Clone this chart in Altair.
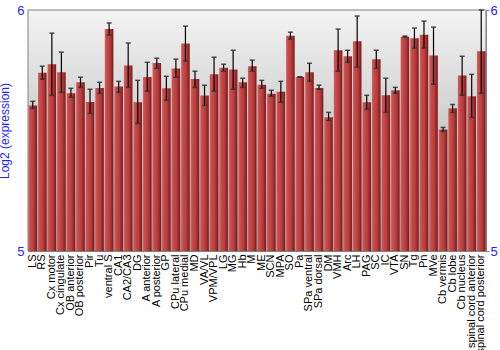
import altair as alt
import pandas as pd

categories = ["LS", "RS", "Cx motor", "Cx cingulate", "OB anterior", "OB posterior", "Pir", "Tu",
              "ventral S", "CA1", "CA2/CA3", "DG", "A anterior", "A posterior", "GP", "CPu lateral",
              "CPu medial", "MD", "VA/VL", "VPM/VPL", "LG", "MG", "Hb", "M", "ME", "SCN", "MPA", "SO",
              "Pa", "SPa ventral", "SPa dorsal", "DM", "VMH", "Arc", "LH", "PAG", "SC", "IC", "VTA",
              "SN", "Tg", "Pn", "MVe", "Cb vermis", "Cb lobe", "Cb nucleus", "spinal cord anterior",
              "spinal cord posterior"]
values = [5.604, 5.740, 5.775, 5.742, 5.655, 5.700, 5.618, 5.676,
          5.921, 5.683, 5.770, 5.617, 5.722, 5.780, 5.675, 5.757,
          5.861, 5.714, 5.645, 5.733, 5.760, 5.753, 5.700, 5.767, 5.690, 5.653, 5.661, 5.893,
          5.722, 5.742, 5.676, 5.555, 5.833, 5.808, 5.870, 5.617, 5.796, 5.646, 5.667,
          5.889, 5.883, 5.897, 5.811, 5.504, 5.592, 5.728, 5.642,
          5.829]
err_low = [5.592, 5.713, 5.646, 5.658, 5.638, 5.679, 5.571, 5.654,
           5.896, 5.658, 5.679, 5.529, 5.663, 5.758, 5.625, 5.721,
           5.788, 5.679, 5.604, 5.663, 5.746, 5.671, 5.679, 5.746, 5.675, 5.642, 5.617, 5.879,
           5.721, 5.704, 5.671, 5.542, 5.746, 5.783, 5.763, 5.588, 5.758, 5.575, 5.654,
           5.887, 5.842, 5.842, 5.692, 5.496, 5.575, 5.646, 5.554,
           5.654]
err_high = [5.621, 5.767, 5.904, 5.825, 5.675, 5.721, 5.671, 5.700,
            5.946, 5.704, 5.863, 5.708, 5.783, 5.800, 5.725, 5.796,
            5.933, 5.746, 5.688, 5.804, 5.775, 5.833, 5.717, 5.792, 5.708, 5.667, 5.704, 5.908,
            5.723, 5.779, 5.688, 5.575, 5.921, 5.833, 5.975, 5.646, 5.833, 5.717, 5.679,
            5.892, 5.925, 5.954, 5.929, 5.513, 5.608, 5.808, 5.733,
            6.000]

df = pd.DataFrame({"region": categories, "value": values, "lo": err_low, "hi": err_high})

W, H = 458, 241
FONT = "Liberation Sans"
BLUE = "#1f1fff"

yscale = alt.Scale(domain=[5, 6], zero=False, nice=False)
xenc = alt.X("region:N", sort=categories,
             scale=alt.Scale(paddingInner=0.1, paddingOuter=0.05),
             axis=alt.Axis(title=None, labelAngle=270, labelFont=FONT, labelFontSize=11,
                           labelColor="black", ticks=False, labelPadding=3,
                           domainColor="#808080", labelLimit=200))

bg = alt.Chart(pd.DataFrame({"a": [0]})).mark_rect(
    fill=alt.Gradient(gradient="linear", x1=0, x2=0, y1=0, y2=1,
                      stops=[alt.GradientStop(offset=0, color="#f4f4f4"),
                             alt.GradientStop(offset=1, color="#a4a4a4")]),
    stroke="#808080", strokeWidth=1, opacity=1
).encode(x=alt.value(0), x2=alt.value(W), y=alt.value(0), y2=alt.value(H))

bars = alt.Chart(df).mark_bar(
    color=alt.Gradient(gradient="linear", x1=0, x2=1, y1=0, y2=0,
                       stops=[alt.GradientStop(offset=0, color="#d06464"),
                              alt.GradientStop(offset=0.2, color="#c84c4c"),
                              alt.GradientStop(offset=0.6, color="#b73c3c"),
                              alt.GradientStop(offset=1, color="#7a1818")])
).encode(
    x=xenc,
    y=alt.Y("value:Q", scale=yscale,
            axis=alt.Axis(title="Log2 (expression)", titleColor=BLUE, titleFont=FONT,
                          titleFontSize=12, titleFontWeight="normal", titlePadding=5,
                          values=[5, 6], format="d", labelColor=BLUE, labelFont=FONT,
                          labelFontSize=13, ticks=False, labelPadding=4, grid=False,
                          domainColor="#808080")),
    y2=alt.datum(5),
)

rules = alt.Chart(df).mark_rule(color="black", strokeWidth=1.2).encode(
    x=alt.X("region:N", sort=categories),
    y=alt.Y("lo:Q", scale=yscale,
            axis=alt.Axis(orient="right", title=None, values=[5, 6], format="d",
                          labelColor=BLUE, labelFont=FONT, labelFontSize=13, tickSize=3,
                          tickColor="#808080", labelPadding=1, grid=False,
                          domainColor="#808080")),
    y2="hi:Q",
)

cap_lo = alt.Chart(df).mark_tick(color="#333333", size=5, thickness=1.5, opacity=0.85).encode(
    x=alt.X("region:N", sort=categories),
    y=alt.Y("lo:Q", scale=yscale, axis=None),
)
cap_hi = alt.Chart(df).mark_tick(color="#333333", size=5, thickness=1.5, opacity=0.85).encode(
    x=alt.X("region:N", sort=categories),
    y=alt.Y("hi:Q", scale=yscale, axis=None),
)

chart = alt.layer(bg, bars, rules, cap_lo, cap_hi).resolve_axis(y="independent").properties(
    width=W, height=H,
    autosize=alt.AutoSizeParams(type="none"),
    padding={"left": 28, "top": 10, "right": 14, "bottom": 99},
).configure_view(stroke=None)

chart.save("out.html", embed_options={"renderer": "svg", "actions": False})
